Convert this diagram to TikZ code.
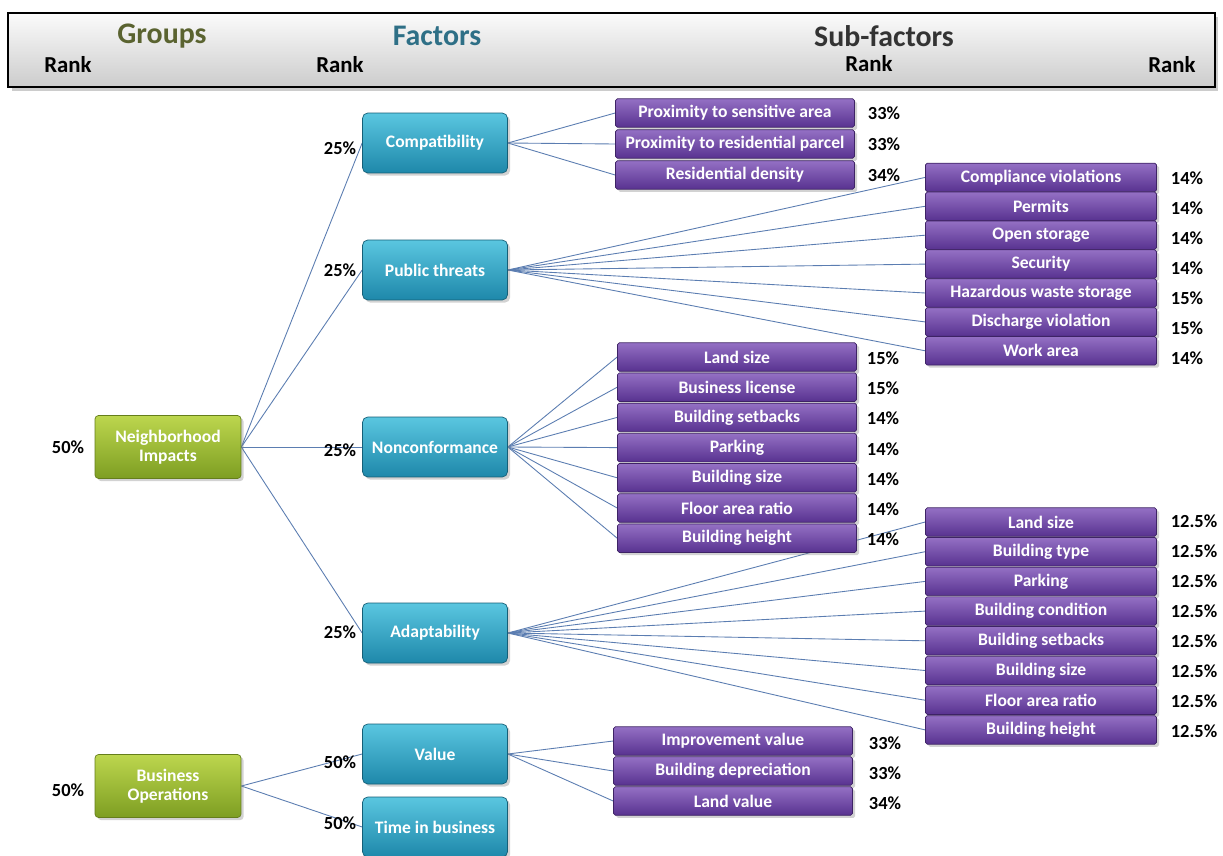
\documentclass[tikz,border=0pt]{standalone}
\usepackage{fontspec}
\setmainfont{Carlito}
\usetikzlibrary{shadows,backgrounds}

\definecolor{grpA}{HTML}{BCD64E}
\definecolor{grpB}{HTML}{7E9E22}
\definecolor{facA}{HTML}{5AC6E0}
\definecolor{facB}{HTML}{1E88AA}
\definecolor{subA}{HTML}{9470C4}
\definecolor{subB}{HTML}{583290}
\definecolor{linkc}{HTML}{5B7DB1}
\definecolor{grpT}{HTML}{5A6330}
\definecolor{facT}{HTML}{2E6F86}

\tikzset{
  boxbase/.style={rounded corners=2pt, text=white, align=center, inner sep=1pt,
    font=\bfseries\fontsize{10}{11}\selectfont,
    drop shadow={opacity=0.35,shadow xshift=1.5pt,shadow yshift=-1.5pt}},
  grpbox/.style={boxbase, draw=grpB!80!black, top color=grpA, bottom color=grpB,
    minimum width=2.92cm, minimum height=1.26cm},
  facbox/.style={boxbase, rounded corners=3pt, draw=facB!70!black, top color=facA,
    bottom color=facB, minimum width=2.9cm, minimum height=1.2cm},
  subbox/.style={boxbase, rounded corners=1pt, draw=subB!70!black, top color=subA,
    bottom color=subB, minimum height=0.57cm},
  subL/.style={subbox, minimum width=4.78cm},
  subR/.style={subbox, minimum width=4.62cm},
  headbar/.style={draw=black, line width=0.8pt, top color=gray!3, bottom color=gray!40,
    minimum width=24.14cm, minimum height=1.48cm, inner sep=0pt,
    drop shadow={opacity=0.4,shadow xshift=2pt,shadow yshift=-2pt}},
  head/.style={inner sep=0pt, font=\bfseries\fontsize{17}{19}\selectfont},
  headrank/.style={inner sep=0pt, font=\bfseries\fontsize{13}{15}\selectfont},
  rnk/.style={font=\bfseries\fontsize{10.5}{12}\selectfont},
  link/.style={draw=linkc, line width=0.5pt}
}

\begin{document}
\begin{tikzpicture}[x=0.02cm,y=-0.02cm]
\path[use as bounding box] (0,0) rectangle (1223,855);
\begin{pgfonlayer}{background}
  \fill[white] (0,0) rectangle (1223,855);
\end{pgfonlayer}

% header
\node[headbar] (bar) at (611.5,50) {};
\node[head,text=grpT] (tgrp) at (162,36) {Groups};
\node[head,text=facT] (tfac) at (437,36) {Factors};
\node[head,text=black!80] (tsub) at (884,36) {Sub-factors};
\node[headrank] (k1) at (68,65) {Rank};
\node[headrank] (k2) at (340,65) {Rank};
\node[headrank] (k3) at (869,64) {Rank};
\node[headrank] (k4) at (1172,65) {Rank};

% groups
\node[grpbox] (nbh) at (168,447) {Neighborhood\\Impacts};
\node[grpbox] (bus) at (168,786) {Business\\Operations};
\node[rnk] (rnbh) at (68,447) {50\%};
\node[rnk] (rbus) at (68,790) {50\%};

% factors
\node[facbox] (comp) at (435,143) {Compatibility};
\node[facbox] (pub) at (435,270) {Public threats};
\node[facbox] (nonc) at (435,447) {Nonconformance};
\node[facbox] (adap) at (435,633) {Adaptability};
\node[facbox] (val) at (435,754) {Value};
\node[facbox] (time) at (435,827) {Time in business};
\foreach \n/\y/\p in {comp/148/25,pub/270/25,nonc/450/25,adap/632/25,val/762/50,time/823/50}
  \node[rnk] (r\n) at (340,\y) {\p\%};

% sub-factors
\foreach \t [count=\i] in {Proximity to sensitive area,Proximity to residential parcel,Residential density}
  \node[subL] (c\i) at (735,{82+31*\i}) {\t};
\foreach \t [count=\i] in {Compliance violations,Permits,Open storage,Security,Hazardous waste storage,Discharge violation,Work area}
  \node[subR] (p\i) at (1041,{148.5+28.9*\i}) {\t};
\foreach \t [count=\i] in {Land size,Business license,Building setbacks,Parking,Building size,Floor area ratio,Building height}
  \node[subL] (n\i) at (737,{326.8+30.2*\i}) {\t};
\foreach \t [count=\i] in {Land size,Building type,Parking,Building condition,Building setbacks,Building size,Floor area ratio,Building height}
  \node[subR] (a\i) at (1041,{492.3+29.7*\i}) {\t};
\foreach \t [count=\i] in {Improvement value,Building depreciation,Land value}
  \node[subL] (v\i) at (733,{711+30*\i}) {\t};

% sub-factor ranks
\foreach \p [count=\i] in {33,33,34} \node[rnk] (rc\i) at (884,{82+31*\i}) {\p\%};
\foreach \p [count=\i] in {14,14,14,14,15,15,14} \node[rnk] (rp\i) at (1187,{148+30*\i}) {\p\%};
\foreach \p [count=\i] in {15,15,14,14,14,14,14} \node[rnk] (rn\i) at (883,{328+30.2*\i}) {\p\%};
\foreach \i in {1,...,8} \node[rnk] (ra\i) at (1194,{491+30*\i}) {12.5\%};
\foreach \p [count=\i] in {33,33,34} \node[rnk] (rv\i) at (885,{713+30*\i}) {\p\%};

% links
\begin{pgfonlayer}{background}
  \foreach \f in {comp,pub,nonc,adap} \draw[link] (nbh.east) -- (\f.west);
  \foreach \f in {val,time} \draw[link] (bus.east) -- (\f.west);
  \foreach \i in {1,...,3} \draw[link] (comp.east) -- (c\i.west);
  \foreach \i in {1,...,7} \draw[link] (pub.east) -- (p\i.west);
  \foreach \i in {1,...,7} \draw[link] (nonc.east) -- (n\i.west);
  \foreach \i in {1,...,8} \draw[link] (adap.east) -- (a\i.west);
  \foreach \i in {1,...,3} \draw[link] (val.east) -- (v\i.west);
\end{pgfonlayer}
\end{tikzpicture}
\end{document}
